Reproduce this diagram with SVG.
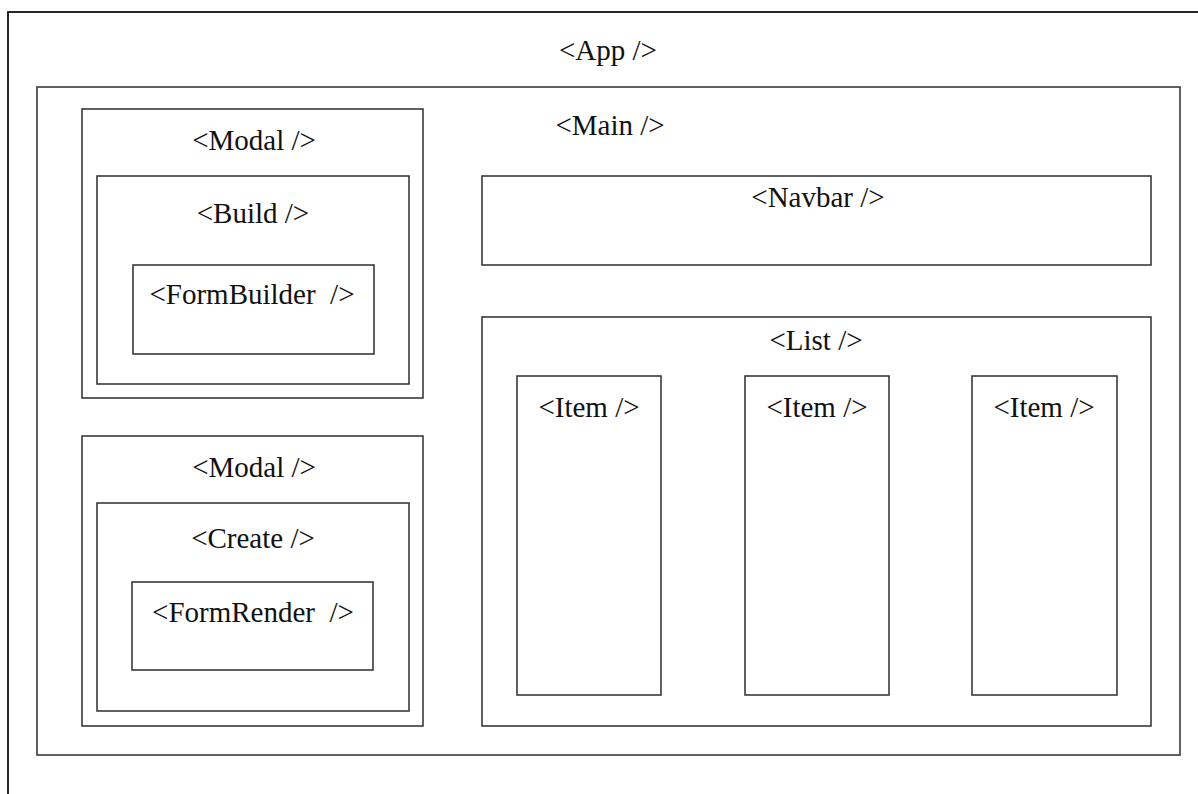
<svg xmlns="http://www.w3.org/2000/svg" width="1198" height="794" viewBox="0 0 1198 794">
  <style>
    .box { fill: none; stroke: #3a3a3a; stroke-width: 1.6; }
    .outer { fill: none; stroke: #111; stroke-width: 1.8; }
    .lbl { font-family: "Liberation Serif", "Times New Roman", serif; font-size: 29px; fill: #111; text-anchor: middle; white-space: pre; }
  </style>
  <rect width="1198" height="794" fill="#ffffff"/>

  <g id="app">
    <rect class="outer" x="8" y="12" width="1210" height="800"/>
    <text class="lbl" x="608" y="60">&lt;App /&gt;</text>
  </g>

  <g id="main">
    <rect class="box" x="37" y="87" width="1143" height="668"/>
    <text class="lbl" x="610" y="135">&lt;Main /&gt;</text>
  </g>

  <g id="modal-build">
    <rect class="box" x="82" y="109" width="341" height="289"/>
    <text class="lbl" x="254" y="150">&lt;Modal /&gt;</text>
  </g>
  <g id="build">
    <rect class="box" x="97" y="176" width="312" height="208"/>
    <text class="lbl" x="253" y="223">&lt;Build /&gt;</text>
  </g>
  <g id="form-builder">
    <rect class="box" x="133" y="265" width="241" height="89"/>
    <text class="lbl" x="252" y="304">&lt;FormBuilder  /&gt;</text>
  </g>

  <g id="modal-create">
    <rect class="box" x="82" y="436" width="341" height="290"/>
    <text class="lbl" x="254" y="477">&lt;Modal /&gt;</text>
  </g>
  <g id="create">
    <rect class="box" x="97" y="503" width="312" height="208"/>
    <text class="lbl" x="253" y="548">&lt;Create /&gt;</text>
  </g>
  <g id="form-render">
    <rect class="box" x="132" y="582" width="241" height="88"/>
    <text class="lbl" x="253" y="622">&lt;FormRender  /&gt;</text>
  </g>

  <g id="navbar">
    <rect class="box" x="482" y="176" width="669" height="89"/>
    <text class="lbl" x="818" y="207">&lt;Navbar /&gt;</text>
  </g>

  <g id="list">
    <rect class="box" x="482" y="317" width="669" height="409"/>
    <text class="lbl" x="816" y="350">&lt;List /&gt;</text>
  </g>

  <g id="item-1">
    <rect class="box" x="517" y="376" width="144" height="319"/>
    <text class="lbl" x="589" y="417">&lt;Item /&gt;</text>
  </g>
  <g id="item-2">
    <rect class="box" x="745" y="376" width="144" height="319"/>
    <text class="lbl" x="817" y="417">&lt;Item /&gt;</text>
  </g>
  <g id="item-3">
    <rect class="box" x="972" y="376" width="145" height="319"/>
    <text class="lbl" x="1044" y="417">&lt;Item /&gt;</text>
  </g>

  <!-- plain nesting layout: no connectors between the boxes -->
  <g id="connectors"/>
</svg>
